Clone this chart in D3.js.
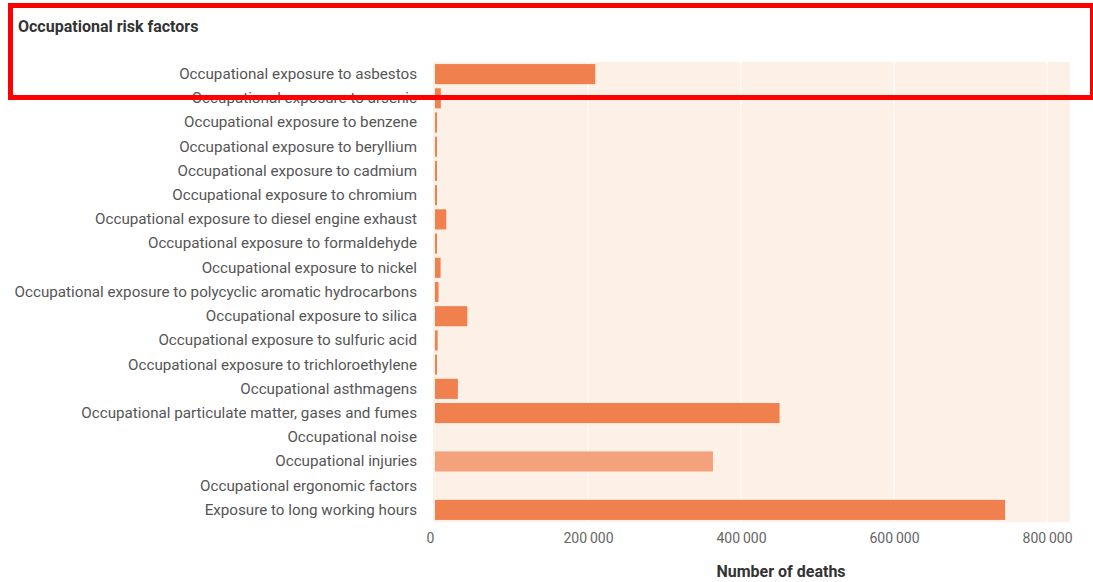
<!DOCTYPE html>
<html>
<head>
<meta charset="utf-8">
<script src="https://cdn.jsdelivr.net/npm/d3@7"></script>
<style>
  html, body { margin: 0; padding: 0; background: #fff; }
  svg { display: block; }
</style>
</head>
<body>
<svg id="chart" width="1093" height="582"></svg>
<script>
const categories = [
  "Occupational exposure to asbestos",
  "Occupational exposure to arsenic",
  "Occupational exposure to benzene",
  "Occupational exposure to beryllium",
  "Occupational exposure to cadmium",
  "Occupational exposure to chromium",
  "Occupational exposure to diesel engine exhaust",
  "Occupational exposure to formaldehyde",
  "Occupational exposure to nickel",
  "Occupational exposure to polycyclic aromatic hydrocarbons",
  "Occupational exposure to silica",
  "Occupational exposure to sulfuric acid",
  "Occupational exposure to trichloroethylene",
  "Occupational asthmagens",
  "Occupational particulate matter, gases and fumes",
  "Occupational noise",
  "Occupational injuries",
  "Occupational ergonomic factors",
  "Exposure to long working hours"
];
const deaths = [209481, 7589, 1880, 164, 269, 1187, 14730, 1159, 7301, 4604, 42258, 3442, 11, 29909, 450381, 0, 363283, 0, 745194];
const kinds = ["disease","disease","disease","disease","disease","disease","disease","disease","disease","disease","disease","disease","disease","disease","disease","disease","injury","disease","disease"];
const tickValues = [0, 200000, 400000, 600000, 800000];
const chartTitle = "Occupational risk factors";
const axisTitle = "Number of deaths";

const svg = d3.select("#chart");
const font = "Roboto, 'Noto Sans', sans-serif";

const x = d3.scaleLinear().domain([0, 830000]).range([435, 1070]);
const y = d3.scaleBand().domain(categories).range([62, 522]).paddingInner(0.17).paddingOuter(0.085);
const color = d3.scaleOrdinal().domain(["disease", "injury"]).range(["#f0804e", "#f4a27c"]);

// panel background
svg.append("rect")
  .attr("x", x(0) - 2).attr("y", y.range()[0])
  .attr("width", x.range()[1] - x(0) + 2).attr("height", y.range()[1] - y.range()[0])
  .attr("fill", "#fdf0e7");

// gridlines
svg.append("g").selectAll("line").data(tickValues.slice(1)).join("line")
  .attr("x1", d => x(d)).attr("x2", d => x(d))
  .attr("y1", y.range()[0]).attr("y2", y.range()[1])
  .attr("stroke", "#fffaf6").attr("stroke-width", 1.5);

// bars
svg.append("g").selectAll("rect").data(categories).join("rect")
  .attr("x", x(0))
  .attr("y", d => y(d))
  .attr("height", y.bandwidth())
  .attr("width", (d, i) => deaths[i] > 0 ? Math.max(x(deaths[i]) - x(0), 2) : 0)
  .attr("fill", (d, i) => color(kinds[i]));

// y labels
const yAxis = d3.axisLeft(y).tickSize(0).tickPadding(0);
const gy = svg.append("g").attr("transform", "translate(417,0)").call(yAxis);
gy.select(".domain").remove();
gy.selectAll("text")
  .attr("font-family", font).attr("font-size", 15.2).attr("fill", "#555");

// x axis
const xAxis = d3.axisBottom(x).tickValues(tickValues).tickSize(0).tickPadding(0)
  .tickFormat(d => d3.format(",")(d).replace(/,/g, "\u2009"));
const gx = svg.append("g").attr("transform", "translate(0,533)").call(xAxis);
gx.select(".domain").remove();
gx.selectAll("text")
  .attr("font-family", font).attr("font-size", 14).attr("fill", "#666")
  .attr("x", d => d === 0 ? -5 : 0);

// titles
svg.append("text").attr("x", 18).attr("y", 32)
  .attr("font-family", font).attr("font-size", 16).attr("font-weight", "bold").attr("fill", "#333")
  .text(chartTitle);
svg.append("text").attr("x", 781).attr("y", 577).attr("text-anchor", "middle")
  .attr("font-family", font).attr("font-size", 16).attr("font-weight", "bold").attr("fill", "#333")
  .text(axisTitle);

// red highlight frame
svg.append("rect").attr("x", 10.5).attr("y", 5.5).attr("width", 1082).attr("height", 92)
  .attr("fill", "none").attr("stroke", "#ff0000").attr("stroke-width", 5);
</script>
</body>
</html>
